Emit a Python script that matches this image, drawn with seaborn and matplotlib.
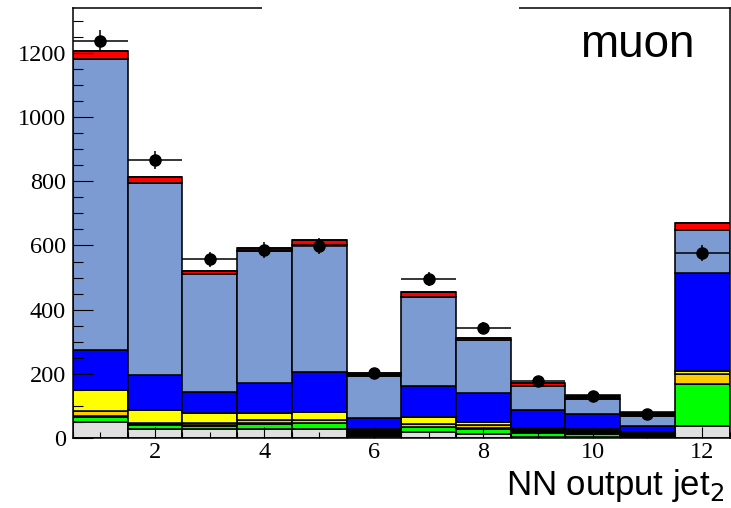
import numpy as np
import pandas as pd
import matplotlib
matplotlib.use("Agg")
import matplotlib.pyplot as plt
import seaborn as sns
from matplotlib.ticker import MultipleLocator, FixedLocator
from matplotlib.patches import Rectangle

# ---------------- data ----------------
bins = [1, 2, 3, 4, 5, 6, 7, 8, 9, 10, 11, 12]
gray_vals      = [50, 27, 27, 29, 28, 7, 20, 13, 3, 3, 1, 37]
green_vals     = [17, 13, 11, 15, 18, 0, 13, 15, 14, 9, 1, 130]
black_vals     = [2, 4, 4, 2, 2, 21, 2, 2, 13, 15, 18, 0]
gold_vals      = [14, 2, 4, 9, 8, 0, 9, 10, 0, 0, 0, 32]
yellow_vals    = [67, 41, 32, 24, 26, 0, 21, 11, 0, 0, 0, 11]
blue_vals      = [124, 109, 64, 91, 123, 33, 97, 90, 57, 47, 17, 304]
lightblue_vals = [906, 600, 368, 412, 395, 131, 278, 164, 75, 46, 31, 134]
red_vals       = [26, 16, 10, 10, 18, 0, 15, 8, 10, 0, 0, 22]
topblack_vals  = [0, 0, 0, 0, 0, 11, 0, 0, 0, 14, 12, 0]
data_vals = [1238, 866, 557, 586, 598, 203, 495, 343, 178, 131, 74, 576]
data_errs = [35, 29, 24, 24, 24, 14, 22, 19, 13, 12, 9, 24]
y_ticks = [0, 200, 400, 600, 800, 1000, 1200]
x_ticks = [2, 4, 6, 8, 10, 12]
channel_label = "muon"
x_label = r"NN output jet$_2$"

# components listed bottom -> top
components = [
    ("gray", gray_vals, "#e0e0e0"),
    ("green", green_vals, "#00ff00"),
    ("black", black_vals, "#000000"),
    ("gold", gold_vals, "#ffcc00"),
    ("yellow", yellow_vals, "#ffff00"),
    ("blue", blue_vals, "#0000ff"),
    ("lightblue", lightblue_vals, "#7b9bd2"),
    ("red", red_vals, "#ff0000"),
    ("topblack", topblack_vals, "#000000"),
]

rows = []
for name, vals, _ in components:
    for b, v in zip(bins, vals):
        rows.append({"bin": b, "value": v, "component": name})
df = pd.DataFrame(rows)
palette = {name: col for name, _, col in components}
# seaborn stacks the first hue level on top -> give order top to bottom
hue_order = [name for name, _, _ in components][::-1]

edges = [b - 0.5 for b in bins] + [bins[-1] + 0.5]

# ---------------- figure ----------------
W, H, DPI = 731, 508, 100
fig = plt.figure(figsize=(W / DPI, H / DPI), dpi=DPI)
ax = fig.add_axes([73 / W, 1 - 438 / H, (729.5 - 73) / W, (438 - 8) / H])

sns.histplot(data=df, x="bin", weights="value", hue="component",
             hue_order=hue_order, multiple="stack", bins=edges,
             palette=palette, edgecolor="black", linewidth=1.15,
             alpha=1, legend=False, shrink=1, ax=ax)

ax.errorbar(bins, data_vals, yerr=data_errs, xerr=0.5, fmt="o",
            color="black", markersize=8, elinewidth=1.1, capsize=0,
            zorder=5)

ax.set_xlim(edges[0], edges[-1])
ax.set_ylim(0, 1340)

serif = ["Liberation Serif", "DejaVu Serif"]
sans = ["Liberation Sans", "DejaVu Sans"]

ax.xaxis.set_major_locator(FixedLocator(x_ticks))
ax.xaxis.set_minor_locator(MultipleLocator(0.5))
ax.yaxis.set_major_locator(FixedLocator(y_ticks))
ax.yaxis.set_minor_locator(MultipleLocator(50))
ax.tick_params(axis="both", which="both", direction="in", width=0.8,
               colors="black", top=False, right=False)
ax.tick_params(axis="y", which="major", length=14.5, pad=5)
ax.tick_params(axis="y", which="minor", length=7.5)
ax.tick_params(axis="x", which="major", length=8, pad=3)
ax.tick_params(axis="x", which="minor", length=4.5)
ax.set_xticklabels([str(t) for t in x_ticks], fontfamily=serif, fontsize=17.5)
ax.set_yticklabels([str(t) for t in y_ticks], fontfamily=serif, fontsize=17.5)

for s in ax.spines.values():
    s.set_linewidth(1.1)
    s.set_color("black")

ax.set_ylabel("")
ax.set_xlabel(x_label, fontfamily=sans, fontsize=25, loc="right", labelpad=3)
ax.xaxis.label.set_x(0.992)

ax.text(0.947, 0.886, channel_label, transform=ax.transAxes,
        ha="right", va="baseline", fontfamily=sans, fontsize=33)

# white box that hides part of the top frame (as in the reference)
ax.add_patch(Rectangle((0.288, 0.975), 0.392, 0.05, transform=ax.transAxes,
                       facecolor="white", edgecolor="none", clip_on=False,
                       zorder=10))

fig.savefig("out.png", dpi=DPI)
